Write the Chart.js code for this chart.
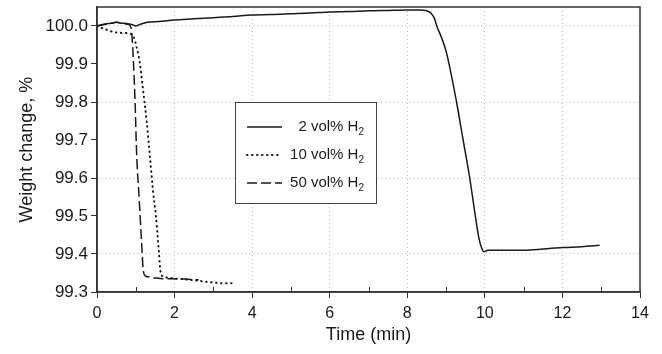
<!DOCTYPE html>
<html>
<head>
<meta charset="utf-8">
<script src="https://cdn.jsdelivr.net/npm/chart.js@4.4.3/dist/chart.umd.min.js"></script>
<style>
  html, body { margin: 0; padding: 0; background: #fff; }
  #wrap { width: 662px; height: 354px; }
</style>
</head>
<body>
<div id="wrap"><canvas id="tga"></canvas></div>
<script>
// Datos (tiempo en min, cambio de peso en %)
const seriesNames = ['2 vol% H', '10 vol% H', '50 vol% H'];
const subscript = '2';

const t2 = [0, 0.2, 0.4, 0.5, 0.6, 0.8, 0.9, 1.0, 1.1, 1.3, 1.6, 2.0, 2.5, 3.0, 3.5, 4.0, 4.5, 5.0, 5.5, 6.0, 6.5, 7.0, 7.5, 8.0, 8.3, 8.5, 8.6, 8.7, 8.76, 8.9, 9.01, 9.27, 9.44, 9.61, 9.74, 9.85, 9.92, 9.97, 10.05, 10.13, 10.5, 11.0, 11.5, 12.0, 12.5, 12.96];
const w2 = [100.0, 100.005, 100.008, 100.01, 100.008, 100.006, 100.004, 100.0, 100.004, 100.01, 100.012, 100.016, 100.019, 100.022, 100.025, 100.029, 100.03, 100.032, 100.034, 100.037, 100.038, 100.04, 100.041, 100.042, 100.042, 100.04, 100.035, 100.02, 100.0, 99.965, 99.93, 99.80, 99.70, 99.60, 99.51, 99.44, 99.415, 99.406, 99.409, 99.41, 99.41, 99.41, 99.413, 99.417, 99.419, 99.423];

const t10 = [0, 0.2, 0.4, 0.6, 0.85, 0.95, 1.02, 1.1, 1.19, 1.28, 1.37, 1.45, 1.52, 1.56, 1.6, 1.63, 1.68, 1.8, 2.06, 2.3, 2.57, 3.0, 3.3, 3.55];
const w10 = [100.0, 99.992, 99.985, 99.982, 99.98, 99.97, 99.945, 99.905, 99.83, 99.75, 99.65, 99.56, 99.50, 99.45, 99.40, 99.36, 99.342, 99.338, 99.335, 99.333, 99.33, 99.325, 99.323, 99.323];

const t50 = [0, 0.2, 0.4, 0.5, 0.7, 0.85, 0.9, 0.98, 1.02, 1.09, 1.15, 1.19, 1.24, 1.32, 1.5, 1.7, 2.14, 2.4, 2.62];
const w50 = [100.0, 100.004, 100.008, 100.01, 100.006, 100.002, 99.976, 99.805, 99.67, 99.54, 99.43, 99.36, 99.343, 99.34, 99.337, 99.335, 99.335, 99.333, 99.332];

const xTicks = [0, 1, 2, 3, 4, 5, 6, 7, 8, 9, 10, 11, 12, 13, 14];
const yTicks = [99.3, 99.4, 99.5, 99.6, 99.7, 99.8, 99.9, 100.0];

const FONT = "'Liberation Sans', Arial, Helvetica, sans-serif";
const INK = '#1a1a1a';

function toPoints(xs, ys) {
    return xs.map((x, i) => ({ x: x, y: ys[i] }));
}

// Marco completo y marcas menores hacia adentro en el eje x
const frame = {
    id: 'frame',
    afterDraw(chart) {
        const { ctx, chartArea: a, scales } = chart;
        ctx.save();
        ctx.strokeStyle = '#333';
        ctx.lineWidth = 1.5;
        ctx.strokeRect(a.left, a.top, a.right - a.left, a.bottom - a.top);
        ctx.lineWidth = 1;
        xTicks.filter(v => v % 2 === 1).forEach(v => {
            const x = Math.round(scales.x.getPixelForValue(v)) + 0.5;
            ctx.beginPath();
            ctx.moveTo(x, a.bottom);
            ctx.lineTo(x, a.bottom - 5);
            ctx.stroke();
        });
        ctx.restore();
    }
};

// Leyenda dibujada dentro del área del gráfico
const legendBox = {
    id: 'legendBox',
    afterDraw(chart) {
        const ctx = chart.ctx;
        ctx.save();
        ctx.fillStyle = '#fff';
        ctx.fillRect(235, 102, 141, 101);
        ctx.strokeStyle = '#444';
        ctx.lineWidth = 1;
        ctx.strokeRect(235.5, 102.5, 141, 101);
        chart.data.datasets.forEach((ds, i) => {
            const y = 127 + i * 28;
            ctx.beginPath();
            ctx.setLineDash(ds.borderDash || []);
            ctx.lineCap = ds.borderCapStyle || 'butt';
            ctx.lineWidth = ds.borderWidth;
            ctx.strokeStyle = ds.borderColor;
            ctx.moveTo(247, y);
            ctx.lineTo(282, y);
            ctx.stroke();
            ctx.setLineDash([]);

            ctx.fillStyle = INK;
            ctx.textAlign = 'right';
            ctx.textBaseline = 'middle';
            ctx.font = '10px ' + FONT;
            const subW = ctx.measureText(subscript).width;
            ctx.fillText(subscript, 364, y + 5);
            ctx.font = '15px ' + FONT;
            ctx.fillText(seriesNames[i], 364 - subW, y);
        });
        ctx.restore();
    }
};

new Chart(document.getElementById('tga'), {
    type: 'line',
    data: {
        datasets: [
            {
                label: seriesNames[0] + subscript,
                data: toPoints(t2, w2),
                borderColor: INK,
                borderWidth: 1.5,
                cubicInterpolationMode: 'monotone'
            },
            {
                label: seriesNames[1] + subscript,
                data: toPoints(t10, w10),
                borderColor: INK,
                borderWidth: 2,
                borderDash: [0.5, 4.5],
                borderCapStyle: 'round',
                cubicInterpolationMode: 'monotone'
            },
            {
                label: seriesNames[2] + subscript,
                data: toPoints(t50, w50),
                borderColor: INK,
                borderWidth: 1.5,
                borderDash: [10, 4],
                cubicInterpolationMode: 'monotone'
            }
        ]
    },
    options: {
        responsive: true,
        maintainAspectRatio: false,
        animation: false,
        layout: { padding: { left: 0, top: 7, right: 22, bottom: 0 } },
        elements: { point: { radius: 0 } },
        plugins: {
            legend: { display: false },
            tooltip: { enabled: false }
        },
        scales: {
            x: {
                type: 'linear',
                min: 0,
                max: 14,
                afterBuildTicks: s => { s.ticks = xTicks.map(v => ({ value: v })); },
                afterFit: s => { s.height = 62; s.paddingLeft = 0; s.paddingRight = 0; },
                ticks: {
                    color: INK,
                    font: { family: FONT, size: 16 },
                    padding: 6,
                    maxRotation: 0,
                    autoSkip: false,
                    callback: v => (v % 2 === 0 ? String(v) : '')
                },
                grid: {
                    color: c => (c.tick && c.tick.value % 2 === 0 && c.tick.value > 0 && c.tick.value < 14) ? '#b8b8b8' : 'transparent',
                    tickColor: c => (c.tick && c.tick.value % 2 === 0) ? '#333' : 'transparent',
                    tickLength: 6,
                    lineWidth: 1
                },
                border: { display: true, color: '#333', width: 1.5, dash: [1, 3] },
                title: {
                    display: true,
                    text: 'Time (min)',
                    color: INK,
                    font: { family: FONT, size: 18 },
                    padding: { top: 0, bottom: 8 }
                }
            },
            y: {
                type: 'linear',
                min: 99.3,
                max: 100.05,
                afterBuildTicks: s => { s.ticks = yTicks.map(v => ({ value: v })); },
                afterFit: s => { s.width = 97; s.paddingTop = 0; s.paddingBottom = 0; },
                ticks: {
                    color: INK,
                    font: { family: FONT, size: 17 },
                    padding: 3,
                    autoSkip: false,
                    callback: v => v.toFixed(1)
                },
                grid: {
                    color: c => {
                        if (!c.tick) return 'transparent';
                        const k = Math.round(c.tick.value * 10);
                        return (k % 2 === 0 && k > 993) ? '#b8b8b8' : 'transparent';
                    },
                    tickColor: '#333',
                    tickLength: 6,
                    lineWidth: 1
                },
                border: { display: true, color: '#333', width: 1.5, dash: [1, 3] },
                title: {
                    display: true,
                    text: 'Weight change, %',
                    color: INK,
                    font: { family: FONT, size: 18 },
                    padding: { top: 16, bottom: 0 }
                }
            }
        }
    },
    plugins: [frame, legendBox]
});
</script>
</body>
</html>
